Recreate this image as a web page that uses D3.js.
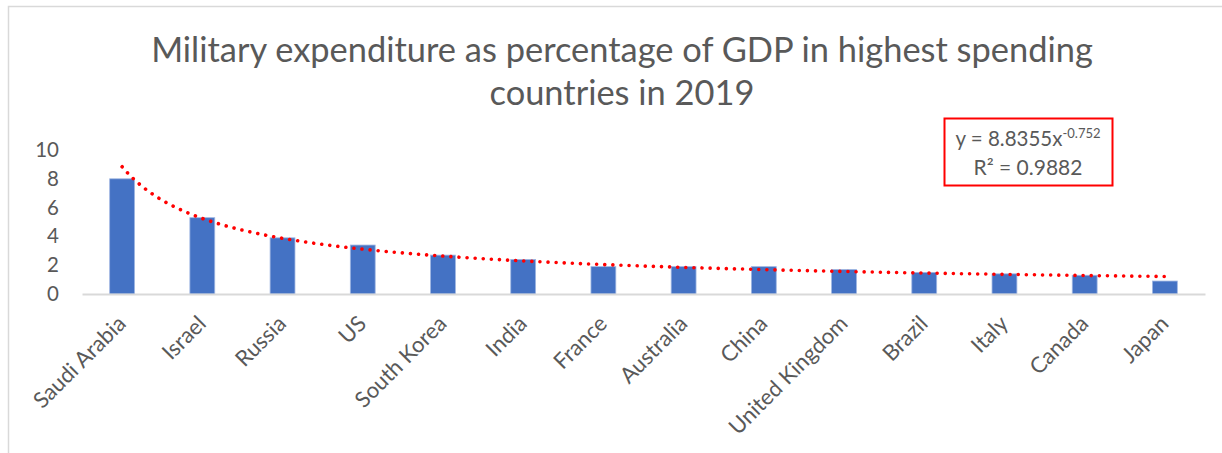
<!DOCTYPE html>
<html>
<head>
<meta charset="utf-8">
<script src="https://cdn.jsdelivr.net/npm/d3@7"></script>
<style>
  html, body { margin: 0; padding: 0; background: #ffffff; }
  svg { display: block; }
</style>
</head>
<body>
<svg id="chart" width="1222" height="453"></svg>
<script>
// Military expenditure (% of GDP), 2019
const countries = ["Saudi Arabia", "Israel", "Russia", "US", "South Korea", "India", "France",
                   "Australia", "China", "United Kingdom", "Brazil", "Italy", "Canada", "Japan"];
const spending = [8.0, 5.3, 3.9, 3.4, 2.7, 2.4, 1.9, 1.9, 1.9, 1.7, 1.5, 1.4, 1.3, 0.9];
const yTicks = [0, 2, 4, 6, 8, 10];
const titleLines = ["Military expenditure as percentage of GDP in highest spending",
                    "countries in 2019"];
// Power trendline y = a * x^b fitted over the category index 1..n
const trendA = 8.8355;
const trendB = -0.752;
const trendR2 = "0.9882";

const svg = d3.select("#chart");
const FONT = "Lato, 'Open Sans', sans-serif";
const GREY = "#595959";

// chart frame
svg.append("path")
  .attr("d", "M8.5,453 V6.5 H1222")
  .attr("fill", "none")
  .attr("stroke", "#d9d9d9")
  .attr("stroke-width", 1.5);

// title, sized to span its line
const title = svg.append("g").attr("font-family", FONT).attr("fill", GREY)
  .attr("text-anchor", "middle");
const t1 = title.append("text").attr("x", 622).attr("y", 62).attr("font-size", 32).text(titleLines[0]);
const w = t1.node().getComputedTextLength();
const fs = 32 * 942 / w;
t1.attr("font-size", fs);
title.append("text").attr("x", 622).attr("y", 105).attr("font-size", fs).text(titleLines[1]);

// scales
const x = d3.scaleBand().domain(countries).range([82, 1205]).paddingInner(0.69).paddingOuter(0.345);
const y = d3.scaleLinear().domain([0, 10]).range([294, 150]);

// y axis labels (no line, no ticks)
const yAxis = svg.append("g").attr("transform", "translate(59,0)")
  .call(d3.axisLeft(y).tickValues(yTicks).tickSize(0).tickPadding(0));
yAxis.select(".domain").remove();
yAxis.selectAll("text").attr("font-family", FONT).attr("font-size", 20.5).attr("fill", GREY);

// bars
svg.append("g").selectAll("rect")
  .data(countries)
  .join("rect")
  .attr("x", d => x(d))
  .attr("width", x.bandwidth())
  .attr("y", (d, i) => y(spending[i]))
  .attr("height", (d, i) => y(0) - y(spending[i]))
  .attr("fill", "#4472c4")
  .attr("stroke", "#9fb6e2")
  .attr("stroke-width", 0.8);

// category axis
const xAxis = svg.append("g").attr("transform", `translate(0,${y(0)})`)
  .call(d3.axisBottom(x).tickSize(0).tickPadding(0));
xAxis.select(".domain").attr("stroke", "#d9d9d9").attr("stroke-width", 2);
xAxis.selectAll(".tick text")
  .attr("font-family", FONT).attr("font-size", 22).attr("fill", GREY)
  .attr("text-anchor", "end")
  .attr("dy", 0)
  .attr("y", 0)
  .attr("transform", "translate(5,31) rotate(-45)");

// trendline, dotted
const xi = d3.scaleLinear().domain([1, countries.length])
  .range([x(countries[0]) + x.bandwidth() / 2, x(countries[countries.length - 1]) + x.bandwidth() / 2]);
const trendPts = d3.range(1, countries.length + 0.001, 0.05).map(v => [xi(v), y(trendA * Math.pow(v, trendB))]);
svg.append("path")
  .attr("d", d3.line()(trendPts))
  .attr("fill", "none")
  .attr("stroke", "#ff0000")
  .attr("stroke-width", 3.6)
  .attr("stroke-linecap", "round")
  .attr("stroke-dasharray", "0.01 8.1");

// equation box
const eq = svg.append("g").attr("font-family", FONT).attr("fill", GREY).attr("text-anchor", "middle");
eq.append("rect").attr("x", 944.5).attr("y", 118.5).attr("width", 168).attr("height", 67)
  .attr("fill", "#ffffff").attr("stroke", "#ff0000").attr("stroke-width", 2);
const l1 = eq.append("text").attr("x", 1028).attr("y", 146).attr("font-size", 20.5);
l1.append("tspan").text(`y = ${trendA}x`);
l1.append("tspan").attr("font-size", 13).attr("dy", -8).text(trendB);
eq.append("text").attr("x", 1028).attr("y", 175).attr("font-size", 21).text(`R² = ${trendR2}`);
</script>
</body>
</html>
